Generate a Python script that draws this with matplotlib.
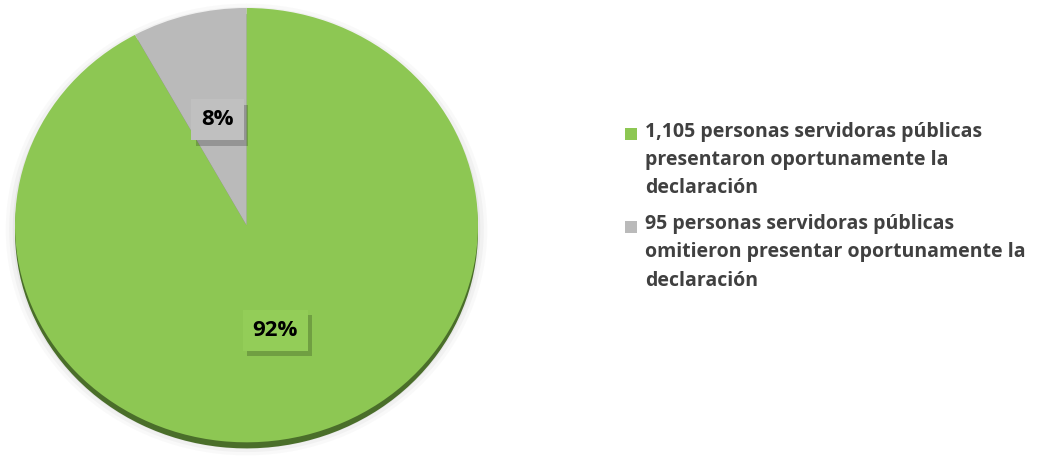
import numpy as np
import matplotlib.pyplot as plt
import matplotlib.patheffects as pe
from matplotlib.patches import Rectangle

shares = [92, 8]
pct_labels = ["92%", "8%"]
legend_labels = [
    "1,105 personas servidoras públicas\npresentaron oportunamente la\ndeclaración",
    "95 personas servidoras públicas\nomitieron presentar oportunamente la\ndeclaración",
]
colors = ["#8dc753", "#bababa"]
box_colors = ["#93cd58", "#c0c0c0"]
depth_colors = ["#4a6e2a", "#7a7a7a"]

plt.rcParams["font.family"] = ["Open Sans", "DejaVu Sans"]

fig = plt.figure(figsize=(10.42, 4.57), dpi=100)
ax = fig.add_axes([15 / 1042, 6 / 457, 463 / 1042, 443 / 457])

# soft shadow halo
for k, a in [(1.04, 0.04), (1.025, 0.06), (1.01, 0.08)]:
    ax.pie(shares, radius=k, center=(0.0, -0.02), colors=["#777777"] * 2,
           startangle=90, counterclock=False, wedgeprops=dict(alpha=a, linewidth=0))

# darker rim for the 3d look
ax.pie(shares, center=(0.0, -0.028), colors=depth_colors, startangle=90,
       counterclock=False, wedgeprops=dict(linewidth=0))

wedges, texts = ax.pie(shares, colors=colors, startangle=90, counterclock=False,
                       wedgeprops=dict(linewidth=0))

for w, lab, bc in zip(wedges, pct_labels, box_colors):
    ang = np.deg2rad((w.theta1 + w.theta2) / 2)
    x, y = 0.5 * np.cos(ang), 0.5 * np.sin(ang)
    t = ax.text(x, y, lab, ha="center", va="center", fontsize=16, fontweight="bold",
                color="black",
                bbox=dict(boxstyle="square,pad=0.45", facecolor=bc, edgecolor="none"))
    t.get_bbox_patch().set_path_effects([
        pe.SimplePatchShadow(offset=(3, -4), shadow_rgbFace="black", alpha=0.2),
        pe.Normal()])

ax.set_aspect("auto")
ax.set_xlim(-1.0, 1.0)
ax.set_ylim(-1.04, 1.0)
ax.axis("off")

# legend
ys = [0.705, 0.503]
for y0, lab, c in zip(ys, legend_labels, colors):
    fig.patches.append(Rectangle((625 / 1042, y0 - 5.5 / 457), 12 / 1042, 12 / 457,
                                 transform=fig.transFigure, facecolor=c, edgecolor="none"))
    fig.text(645 / 1042, y0 + 13 / 457, lab, ha="left", va="top", fontsize=14,
             fontweight="bold", color="#404040", linespacing=1.55)

fig.savefig("out.png", dpi=100)
